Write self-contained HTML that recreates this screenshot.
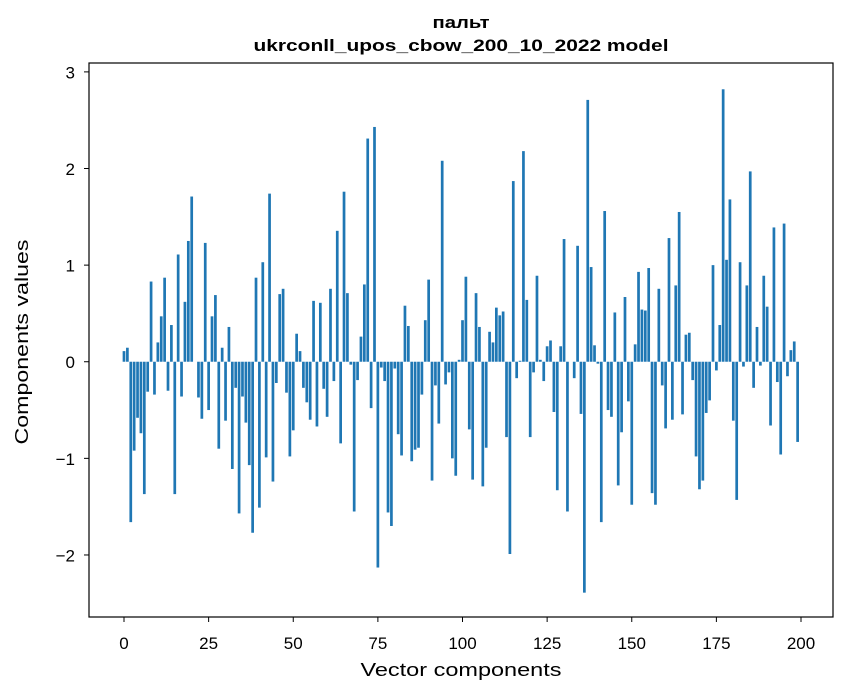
<!DOCTYPE html>
<html><head><meta charset="utf-8"><style>
html,body{margin:0;padding:0;background:#fff;}
svg{display:block;font-family:"Liberation Sans","DejaVu Sans",sans-serif;}
</style></head><body>
<svg id="chart" width="847" height="696" viewBox="0 0 847 696">
<text x="461" y="28" text-anchor="middle" font-size="17" font-weight="bold" textLength="57" lengthAdjust="spacingAndGlyphs">пальт</text>
<text x="461" y="51" text-anchor="middle" font-size="17" font-weight="bold" textLength="415" lengthAdjust="spacingAndGlyphs">ukrconll_upos_cbow_200_10_2022 model</text>
<g id="bars"></g>
<g id="axes"></g>
<text x="461" y="676" text-anchor="middle" font-size="18" textLength="201" lengthAdjust="spacingAndGlyphs">Vector components</text>
<text transform="translate(28,342) rotate(-90)" text-anchor="middle" font-size="18" textLength="205" lengthAdjust="spacingAndGlyphs">Components values</text>
</svg>
<script>
const values = [0.11,0.145,-1.66,-0.92,-0.58,-0.74,-1.37,-0.31,0.83,-0.34,
0.2,0.47,0.87,-0.3,0.38,-1.37,1.11,-0.36,0.62,1.25,
1.71,0.0,-0.37,-0.59,1.23,-0.5,0.47,0.69,-0.9,0.145,
-0.61,0.36,-1.11,-0.27,-1.57,-0.36,-0.63,-1.07,-1.77,0.87,
-1.51,1.03,-0.99,1.74,-1.24,-0.22,0.7,0.755,-0.32,-0.98,
-0.71,0.29,0.11,-0.27,-0.42,-0.6,0.63,-0.67,0.61,-0.28,
-0.57,0.755,-0.2,1.355,-0.845,1.76,0.71,-0.03,-1.55,-0.19,
0.26,0.8,2.31,-0.48,2.43,-2.13,-0.06,-0.2,-1.56,-1.7,
-0.07,-0.75,-0.97,0.58,0.37,-1.03,-0.91,-0.89,-0.34,0.43,
0.85,-1.23,-0.245,-0.64,2.08,-0.235,-0.11,-1.0,-1.18,0.02,
0.43,0.88,-0.7,-1.22,0.71,0.36,-1.29,-0.89,0.31,0.2,
0.56,0.48,0.52,-0.78,-1.99,1.87,-0.17,0.01,2.18,0.64,
-0.78,-0.11,0.89,0.02,-0.2,0.16,0.22,-0.52,-1.33,0.16,
1.27,-1.55,0.0,-0.17,1.2,-0.54,-2.39,2.71,0.98,0.17,
-0.02,-1.66,1.56,-0.5,-0.57,0.51,-1.28,-0.73,0.67,-0.41,
-1.48,0.18,0.93,0.54,0.53,0.97,-1.36,-1.48,0.755,-0.245,
-0.69,1.28,-0.6,0.79,1.55,-0.545,0.28,0.3,-0.19,-0.98,
-1.32,-1.23,-0.53,-0.4,1.0,-0.09,0.38,2.82,1.055,1.68,
-0.61,-1.43,1.03,-0.05,0.79,1.97,-0.27,0.36,-0.04,0.89,
0.57,-0.66,1.39,-0.21,-0.96,1.43,-0.15,0.12,0.21,-0.83];
const xTicks = [0,25,50,75,100,125,150,175,200];
const yTicks = [-2,-1,0,1,2,3];
const yTickLabels = ["\u22122","\u22121","0","1","2","3"];

const L=89,R=833,T=63,B=617;
const xMin=-10.34,xMax=209.45,yMin=-2.642,yMax=3.092;
function xs(v){return L+(v-xMin)/(xMax-xMin)*(R-L);}
function ys(v){return B-(v-yMin)/(yMax-yMin)*(B-T);}
const NS="http://www.w3.org/2000/svg";
const gb=document.getElementById('bars');
values.forEach((v,i)=>{
  const r=document.createElementNS(NS,'rect');
  const x0=xs(i-0.4),x1=xs(i+0.4);
  const y0=ys(Math.max(v,0)),y1=ys(Math.min(v,0));
  r.setAttribute('x',x0);r.setAttribute('width',x1-x0);
  r.setAttribute('y',y0);r.setAttribute('height',Math.max(y1-y0,0.01));
  r.setAttribute('fill','#1f77b4');
  
  
  gb.appendChild(r);
});
const ga=document.getElementById('axes');
const frame=document.createElementNS(NS,'rect');
frame.setAttribute('x',L);frame.setAttribute('y',T);frame.setAttribute('width',R-L);frame.setAttribute('height',B-T);
frame.setAttribute('fill','none');frame.setAttribute('stroke','#000');frame.setAttribute('stroke-width','1.2');


ga.appendChild(frame);
xTicks.forEach(t=>{
  const x=xs(t);
  const l=document.createElementNS(NS,'line');
  l.setAttribute('x1',x);l.setAttribute('x2',x);l.setAttribute('y1',B);l.setAttribute('y2',B+5);l.setAttribute('stroke','#000');
  
  
  ga.appendChild(l);
  const tx=document.createElementNS(NS,'text');
  tx.setAttribute('x',x);tx.setAttribute('y',B+32);tx.setAttribute('text-anchor','middle');tx.setAttribute('font-size','17');
  tx.textContent=t;
  
  
  ga.appendChild(tx);
});
yTicks.forEach((t,i)=>{
  const y=ys(t);
  const l=document.createElementNS(NS,'line');
  l.setAttribute('x1',L-5);l.setAttribute('x2',L);l.setAttribute('y1',y);l.setAttribute('y2',y);l.setAttribute('stroke','#000');
  
  
  ga.appendChild(l);
  const tx=document.createElementNS(NS,'text');
  tx.setAttribute('x',L-14);tx.setAttribute('y',y+6.5);tx.setAttribute('text-anchor','end');tx.setAttribute('font-size','17');
  tx.textContent=yTickLabels[i];
  
  
  ga.appendChild(tx);
});
</script>
</body></html>
